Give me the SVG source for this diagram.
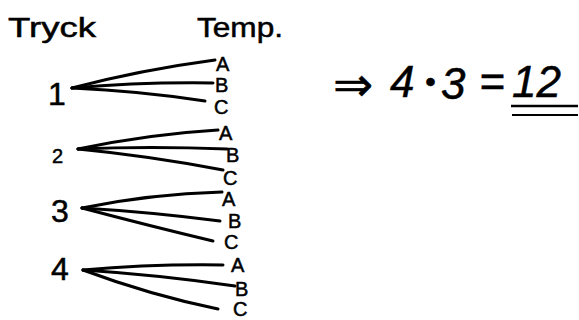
<svg xmlns="http://www.w3.org/2000/svg" width="579" height="320" viewBox="0 0 579 320">
<style>
.t{font-family:"Liberation Sans","DejaVu Sans",sans-serif;fill:#000;stroke:#000;stroke-width:0.5}
.h{font-size:27px}
.n{font-size:32px}
.l{font-size:20px}
.f{font-size:44px;font-style:italic}
.c{fill:none;stroke:#000;stroke-width:3;stroke-linecap:round}
</style>
<rect width="579" height="320" fill="#fff"/>
<g id="header-tryck"><text class="t h" x="8" y="37" textLength="88" lengthAdjust="spacingAndGlyphs">Tryck</text></g>
<g id="header-temp"><text class="t h" x="197" y="37" textLength="86" lengthAdjust="spacingAndGlyphs">Temp.</text></g>
<g id="connectors">
<path class="c" d="M72,88 Q140,70 215,60"/>
<path class="c" d="M72,88 Q140,82 213,83"/>
<path class="c" d="M72,88 Q140,91 205,101"/>
<path class="c" d="M78,149 Q150,134 218,130"/>
<path class="c" d="M78,149 Q150,146 227,149"/>
<path class="c" d="M78,149 Q150,156 223,170"/>
<path class="c" d="M82,208 Q150,194 222,192"/>
<path class="c" d="M82,208 Q150,212 220,221"/>
<path class="c" d="M82,208 Q150,226 213,241"/>
<path class="c" d="M83,270 Q150,264 223,265"/>
<path class="c" d="M83,270 Q160,275 235,286"/>
<path class="c" d="M83,270 Q150,295 218,309"/>
</g>
<g id="p1"><text class="t n" x="48" y="105">1</text></g>
<g id="p2"><text class="t l" x="52" y="163" font-size="22">2</text></g>
<g id="p3"><text class="t n" x="51" y="222">3</text></g>
<g id="p4"><text class="t n" x="51" y="280">4</text></g>
<g id="t1a"><text class="t l" x="216" y="71">A</text></g>
<g id="t1b"><text class="t l" x="215" y="92">B</text></g>
<g id="t1c"><text class="t l" x="214" y="114">C</text></g>
<g id="t2a"><text class="t l" x="219" y="140">A</text></g>
<g id="t2b"><text class="t l" x="226" y="162">B</text></g>
<g id="t2c"><text class="t l" x="223" y="185">C</text></g>
<g id="t3a"><text class="t l" x="222" y="206">A</text></g>
<g id="t3b"><text class="t l" x="228" y="228">B</text></g>
<g id="t3c"><text class="t l" x="224" y="249">C</text></g>
<g id="t4a"><text class="t l" x="231" y="272">A</text></g>
<g id="t4b"><text class="t l" x="235" y="296">B</text></g>
<g id="t4c"><text class="t l" x="233" y="316">C</text></g>
<g id="formula">
<text class="t f" y="97"><tspan x="333" y="101" font-size="48">⇒</tspan><tspan x="390" y="97">4</tspan><tspan x="425" font-size="30" y="92">•</tspan><tspan x="441" y="99">3</tspan><tspan x="479" y="97">=</tspan><tspan x="512">12</tspan></text>
<line x1="511" y1="106" x2="578" y2="106" stroke="#000" stroke-width="2.5"/>
<line x1="512" y1="115" x2="578" y2="115" stroke="#000" stroke-width="2"/>
</g>
</svg>
